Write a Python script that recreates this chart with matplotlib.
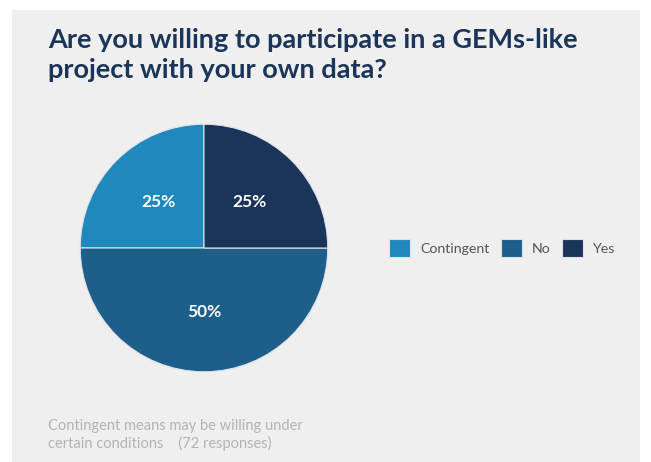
import matplotlib.pyplot as plt
from matplotlib.patches import Rectangle

# Survey answers
labels = ['Contingent', 'No', 'Yes']
shares = [25, 50, 25]
colors = ['#1f88bd', '#1d5f8a', '#1b355a']

title = 'Are you willing to participate in a GEMs-like\nproject with your own data?'
note = 'Contingent means may be willing under\ncertain conditions    (72 responses)'

plt.rcParams['font.family'] = ['Lato', 'DejaVu Sans']

W, H = 651, 462
fig = plt.figure(figsize=(W / 100, H / 100), dpi=100)
fig.patch.set_facecolor('white')

# Light gray card behind everything
fig.patches.append(Rectangle((12 / W, 0), (640 - 12) / W, (H - 10) / H,
                             transform=fig.transFigure, facecolor='#efefef',
                             edgecolor='none', zorder=-5))

fig.text(48 / W, 1 - 28 / H, title, ha='left', va='top', fontsize=19.5,
         fontweight='bold', color='#1b355a', linespacing=1.3)

ax = fig.add_axes([(204 - 125) / W, (H - 248 - 125) / H, 250 / W, 250 / H])
ax.set_facecolor('none')
wedges, texts, autotexts = ax.pie(
    shares, colors=colors, startangle=90, counterclock=True,
    autopct='%d%%', pctdistance=0.52,
    wedgeprops=dict(edgecolor='#dfe3e8', linewidth=0.8),
    textprops=dict(color='white', fontsize=12.5, fontweight='bold'))
ax.set_xlim(-1.01, 1.01)
ax.set_ylim(-1.01, 1.01)
ax.set_aspect('equal')
ax.axis('off')

fig.legend(wedges, labels, loc='center left',
           bbox_to_anchor=(376 / W, 1 - 248 / H), ncol=3, frameon=False,
           fontsize=10.2, labelcolor='#555555', handlelength=1.5,
           handleheight=1.5, handletextpad=0.7, columnspacing=0.8)

fig.text(48 / W, 1 - 419 / H, note, ha='left', va='top', fontsize=10.5,
         color='#b3b3b3', linespacing=1.25)

fig.savefig('out.png', dpi=100)
